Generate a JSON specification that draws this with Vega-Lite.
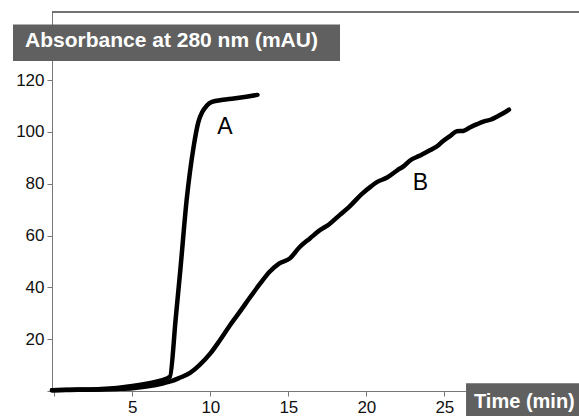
{
  "$schema": "https://vega.github.io/schema/vega-lite/v6.json",
  "width": 527,
  "height": 379,
  "autosize": {"type": "none"},
  "padding": {"left": 52, "top": 12, "right": 0, "bottom": 25},
  "background": "white",
  "config": {
    "view": {"stroke": null},
    "font": "Liberation Sans",
    "axis": {"labelFont": "Liberation Sans", "grid": false, "title": null}
  },
  "datasets": {
    "curves": [
      {"series": "A", "t": -0.15, "v": 0.3}, {"series": "A", "t": 0.5, "v": 0.4}, {"series": "A", "t": 1, "v": 0.5},
      {"series": "A", "t": 2, "v": 0.6}, {"series": "A", "t": 3, "v": 0.8}, {"series": "A", "t": 4, "v": 1.2},
      {"series": "A", "t": 5, "v": 1.9}, {"series": "A", "t": 6, "v": 2.9}, {"series": "A", "t": 6.8, "v": 4.0},
      {"series": "A", "t": 7.41, "v": 5.5}, {"series": "A", "t": 7.78, "v": 28}, {"series": "A", "t": 8.08, "v": 47},
      {"series": "A", "t": 8.48, "v": 73.7}, {"series": "A", "t": 8.92, "v": 94}, {"series": "A", "t": 9.23, "v": 103.8},
      {"series": "A", "t": 9.49, "v": 107.8}, {"series": "A", "t": 9.75, "v": 110}, {"series": "A", "t": 10.1, "v": 111.6},
      {"series": "A", "t": 10.8, "v": 112.4}, {"series": "A", "t": 11.5, "v": 112.9}, {"series": "A", "t": 12.3, "v": 113.6},
      {"series": "A", "t": 13.02, "v": 114.3},
      {"series": "B", "t": -0.15, "v": 0.3}, {"series": "B", "t": 1, "v": 0.4}, {"series": "B", "t": 2, "v": 0.5},
      {"series": "B", "t": 3, "v": 0.6}, {"series": "B", "t": 4, "v": 0.8}, {"series": "B", "t": 5, "v": 1.1},
      {"series": "B", "t": 6, "v": 1.8}, {"series": "B", "t": 7, "v": 3.0}, {"series": "B", "t": 7.5, "v": 3.8},
      {"series": "B", "t": 8, "v": 5.0}, {"series": "B", "t": 8.7, "v": 7.0}, {"series": "B", "t": 9.3, "v": 10},
      {"series": "B", "t": 10, "v": 14.5}, {"series": "B", "t": 10.6, "v": 19.5}, {"series": "B", "t": 11.25, "v": 25.3},
      {"series": "B", "t": 12, "v": 31.5}, {"series": "B", "t": 12.5, "v": 35.8}, {"series": "B", "t": 13.2, "v": 41.5},
      {"series": "B", "t": 13.8, "v": 46}, {"series": "B", "t": 14.4, "v": 49.2}, {"series": "B", "t": 15.1, "v": 51.2},
      {"series": "B", "t": 15.7, "v": 55.4}, {"series": "B", "t": 16.4, "v": 59}, {"series": "B", "t": 17, "v": 62},
      {"series": "B", "t": 17.6, "v": 64.3}, {"series": "B", "t": 18.3, "v": 68}, {"series": "B", "t": 18.9, "v": 71.1},
      {"series": "B", "t": 19.7, "v": 76}, {"series": "B", "t": 20.3, "v": 79}, {"series": "B", "t": 20.7, "v": 80.7},
      {"series": "B", "t": 21.3, "v": 82.3}, {"series": "B", "t": 22, "v": 85.3}, {"series": "B", "t": 22.4, "v": 86.8},
      {"series": "B", "t": 22.8, "v": 89}, {"series": "B", "t": 23.4, "v": 90.8}, {"series": "B", "t": 24.1, "v": 93},
      {"series": "B", "t": 24.6, "v": 94.8}, {"series": "B", "t": 24.9, "v": 96.4}, {"series": "B", "t": 25.4, "v": 98.6},
      {"series": "B", "t": 25.8, "v": 100.3}, {"series": "B", "t": 26.2, "v": 100.4}, {"series": "B", "t": 26.6, "v": 101.6},
      {"series": "B", "t": 27.1, "v": 103}, {"series": "B", "t": 27.5, "v": 104}, {"series": "B", "t": 28, "v": 104.8},
      {"series": "B", "t": 28.4, "v": 106}, {"series": "B", "t": 28.8, "v": 107.3}, {"series": "B", "t": 29.14, "v": 108.6}
    ],
    "labels": [
      {"label": "A", "t": 10.94, "v": 101.9},
      {"label": "B", "t": 23.47, "v": 80.2}
    ]
  },
  "layer": [
    {
      "data": {"values": [{}]},
      "mark": {"type": "rule", "color": "#444444", "strokeWidth": 1.3},
      "encoding": {"y": {"datum": 146.3, "type": "quantitative"}}
    },
    {
      "data": {"name": "curves"},
      "mark": {"type": "line", "strokeWidth": 4.5, "strokeCap": "round", "strokeJoin": "round", "interpolate": "monotone", "color": "black"},
      "encoding": {
        "x": {
          "field": "t", "type": "quantitative",
          "scale": {"domain": [-0.15, 33.63], "nice": false, "zero": false},
          "axis": {
            "values": [0, 5, 10, 15, 20, 25],
            "labelExpr": "datum.value == 0 ? '' : datum.label",
            "domainColor": "#777777", "tickColor": "#777777", "tickSize": 5,
            "labelFontSize": 17, "labelColor": "#111111", "labelPadding": 3
          }
        },
        "y": {
          "field": "v", "type": "quantitative",
          "scale": {"domain": [0, 146.3], "nice": false, "zero": false},
          "axis": {
            "values": [0, 20, 40, 60, 80, 100, 120],
            "labelExpr": "datum.value == 0 ? '' : datum.label",
            "domainColor": "#777777", "tickColor": "#777777", "tickSize": 5,
            "labelFontSize": 17, "labelColor": "#111111", "labelPadding": 3
          }
        },
        "detail": {"field": "series", "type": "nominal"}
      }
    },
    {
      "data": {"name": "labels"},
      "mark": {"type": "text", "fontSize": 23, "align": "center", "baseline": "middle", "color": "black"},
      "encoding": {
        "x": {"field": "t", "type": "quantitative"},
        "y": {"field": "v", "type": "quantitative"},
        "text": {"field": "label"}
      }
    },
    {
      "data": {"values": [{}]},
      "mark": {"type": "rect", "color": "#606060"},
      "encoding": {
        "x": {"datum": -2.65, "type": "quantitative"},
        "x2": {"datum": 18.31},
        "y": {"datum": 141.5, "type": "quantitative"},
        "y2": {"datum": 127.4}
      }
    },
    {
      "data": {"values": [{"txt": "Absorbance at 280 nm (mAU)"}]},
      "mark": {"type": "text", "fontSize": 21, "fontWeight": "bold", "align": "left", "baseline": "alphabetic", "color": "white"},
      "encoding": {
        "x": {"datum": -1.88, "type": "quantitative"},
        "y": {"datum": 132.9, "type": "quantitative"},
        "text": {"field": "txt"}
      }
    },
    {
      "data": {"values": [{}]},
      "mark": {"type": "rect", "color": "#606060"},
      "encoding": {
        "x": {"datum": 26.39, "type": "quantitative"},
        "x2": {"datum": 34.5},
        "y": {"datum": 3.0, "type": "quantitative"},
        "y2": {"datum": -12}
      }
    },
    {
      "data": {"values": [{"txt": "Time (min)"}]},
      "mark": {"type": "text", "fontSize": 20, "fontWeight": "bold", "align": "left", "baseline": "alphabetic", "color": "white"},
      "encoding": {
        "x": {"datum": 26.9, "type": "quantitative"},
        "y": {"datum": -6.37, "type": "quantitative"},
        "text": {"field": "txt"}
      }
    }
  ]
}
